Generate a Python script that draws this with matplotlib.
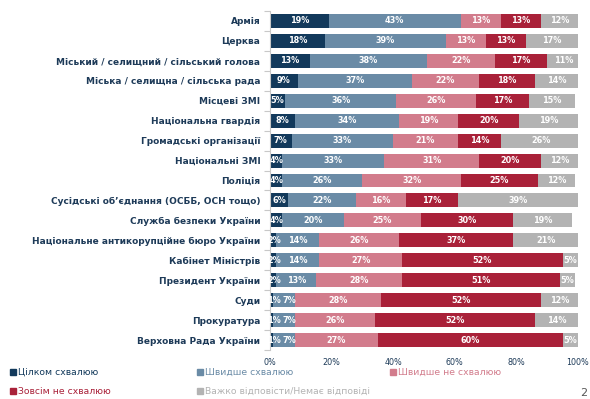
import matplotlib
matplotlib.use("Agg")
import matplotlib.pyplot as plt
from matplotlib.lines import Line2D
import numpy as np

plt.rcParams["font.family"] = ["DejaVu Sans"]

categories = [
    "Армія",
    "Церква",
    "Міський / селищний / сільський голова",
    "Міська / селищна / сільська рада",
    "Місцеві ЗМІ",
    "Національна гвардія",
    "Громадські організації",
    "Національні ЗМІ",
    "Поліція",
    "Сусідські об’єднання (ОСББ, ОСН тощо)",
    "Служба безпеки України",
    "Національне антикорупційне бюро України",
    "Кабінет Міністрів",
    "Президент України",
    "Суди",
    "Прокуратура",
    "Верховна Рада України",
]

fully_approve = [19, 18, 13, 9, 5, 8, 7, 4, 4, 6, 4, 2, 2, 2, 1, 1, 1]
rather_approve = [43, 39, 38, 37, 36, 34, 33, 33, 26, 22, 20, 14, 14, 13, 7, 7, 7]
rather_disapprove = [13, 13, 22, 22, 26, 19, 21, 31, 32, 16, 25, 26, 27, 28, 28, 26, 27]
fully_disapprove = [13, 13, 17, 18, 17, 20, 14, 20, 25, 17, 30, 37, 52, 51, 52, 52, 60]
hard_to_say = [12, 17, 11, 14, 15, 19, 26, 12, 12, 39, 19, 21, 5, 5, 12, 14, 5]

series_names = [
    "Цілком схвалюю",
    "Швидше схвалюю",
    "Швидше не схвалюю",
    "Зовсім не схвалюю",
    "Важко відповісти/Немає відповіді",
]
colors = ["#12395b", "#6a8ba6", "#d27c8c", "#a92139", "#b3b3b3"]
xticks = [0, 20, 40, 60, 80, 100]
xtick_labels = ["0%", "20%", "40%", "60%", "80%", "100%"]

label_color = "#1d3a58"

fig = plt.figure(figsize=(5.9, 3.99), dpi=100)
ax = fig.add_axes([270 / 590, 1 - 350 / 399, 308 / 590, 339 / 399])

series = [fully_approve, rather_approve, rather_disapprove, fully_disapprove, hard_to_say]
y = np.arange(len(categories))
left = np.zeros(len(categories))
row_labels = [[] for _ in categories]
for vals, col, name in zip(series, colors, series_names):
    vals = np.array(vals, dtype=float)
    ax.barh(y, vals, left=left, height=0.7, color=col, label=name, edgecolor="none")
    for i, (yi, l, v) in enumerate(zip(y, left, vals)):
        t = ax.text(l + v / 2, yi, f"{int(v)}%", ha="center", va="center",
                    color="white", fontsize=5.9, fontweight="bold")
        row_labels[i].append(t)
    left += vals

ax.set_xlim(0, 100)
ax.set_ylim(len(categories) - 0.5, -0.5)
ax.set_yticks(y)
ax.set_yticklabels(categories, fontsize=6.5, fontweight="bold", color=label_color)
ax.tick_params(axis="y", which="major", length=0, pad=7)
ax.set_yticks(np.arange(-0.5, len(categories), 1), minor=True)
ax.tick_params(axis="y", which="minor", length=4, color="#c8c8c8", width=0.8)
ax.set_xticks(xticks)
ax.set_xticklabels(xtick_labels, fontsize=5.8, color=label_color)
ax.tick_params(axis="x", length=0, pad=6)
for s in ["top", "right", "bottom"]:
    ax.spines[s].set_visible(False)
ax.spines["left"].set_color("#c8c8c8")
ax.spines["left"].set_linewidth(0.8)

# nudge crowded value labels apart (left to right within each row)
fig.canvas.draw()
renderer = fig.canvas.get_renderer()
ax_left_px = ax.transData.transform((0, 0))[0]
gap = 2.0
for labels in row_labels:
    prev_right = ax_left_px - 3 - gap
    for t in labels:
        bb = t.get_window_extent(renderer)
        shift = max(0.0, prev_right + gap - bb.x0)
        if shift > 0:
            x_disp, y_disp = ax.transData.transform(t.get_position())
            nx, ny = ax.transData.inverted().transform((x_disp + shift, y_disp))
            t.set_position((nx, ny))
        prev_right = bb.x1 + shift

# legend
leg_pos = [(10, 372), (197, 372), (390, 372), (10, 391), (197, 391)]
for (px, py), name, col in zip(leg_pos, series_names, colors):
    fig.add_artist(Line2D([(px + 2.5) / 590], [1 - py / 399], marker="s", markersize=3.8,
                          color=col, linestyle="none", transform=fig.transFigure))
    fig.text((px + 8) / 590, 1 - py / 399, name, color=col, fontsize=6.7, va="center", ha="left")

fig.text(584 / 590, 1 - 393 / 399, "2", color="#555555", fontsize=8, va="center", ha="center")

fig.savefig("out.png", dpi=100)
